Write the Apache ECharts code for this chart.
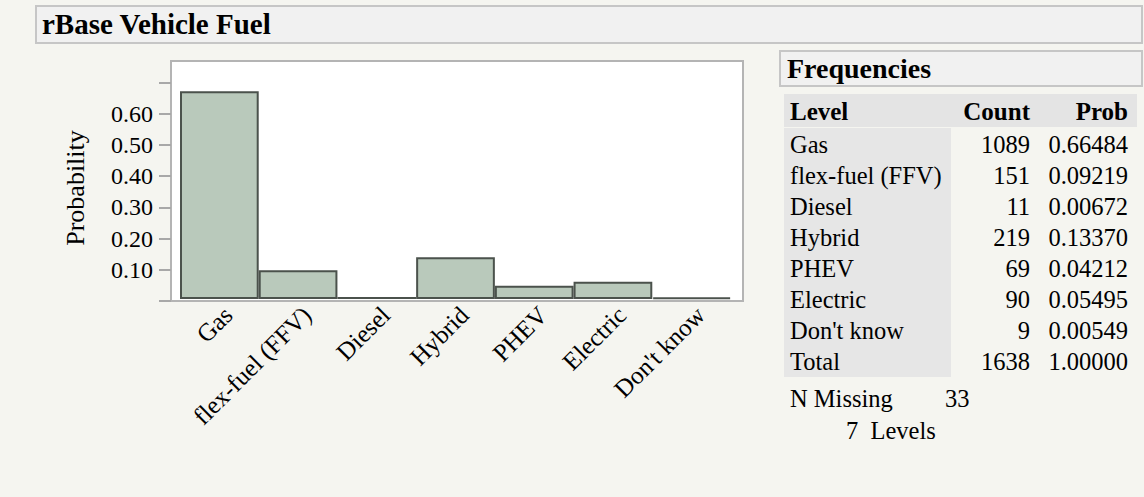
<!DOCTYPE html>
<html><head><meta charset="utf-8">
<script src="https://cdn.jsdelivr.net/npm/echarts@6/dist/echarts.min.js"></script>
<style>html,body{margin:0;padding:0;background:#f5f5f0;} #c{width:1144px;height:497px;}</style>
</head><body><div id="c"></div>
<script>
const titleText = 'rBase Vehicle Fuel';
const yAxisTitle = 'Probability';
const categories = ['Gas', 'flex-fuel (FFV)', 'Diesel', 'Hybrid', 'PHEV', 'Electric', "Don't know"];
const counts = [1089, 151, 11, 219, 69, 90, 9];
const probs = [0.66484, 0.09219, 0.00672, 0.13370, 0.04212, 0.05495, 0.00549];
const totalCount = 1638;
const totalProb = 1.00000;
const yTickValues = [0, 0.1, 0.2, 0.3, 0.4, 0.5, 0.6, 0.7];
const yLabelValues = [0.1, 0.2, 0.3, 0.4, 0.5, 0.6];
const yMax = 0.768;
const nMissing = 33;
const nLevels = 7;

const FONT = "'Liberation Serif', 'Times New Roman', serif";
const chart = echarts.init(document.getElementById('c'), null, {renderer: 'svg'});

const graphics = [];
graphics.push({type: 'rect', shape: {x: 36, y: 6, width: 1106, height: 37}, style: {fill: '#f1f1f1', stroke: '#c6c6c6', lineWidth: 2}});
graphics.push({type: 'text', style: {text: titleText, x: 42, y: 24, fontFamily: FONT, fontSize: 29, fontWeight: 'bold', fill: '#000', textAlign: 'left', textVerticalAlign: 'middle'}});
graphics.push({type: 'rect', shape: {x: 780, y: 51, width: 362, height: 35}, style: {fill: '#f1f1f1', stroke: '#c6c6c6', lineWidth: 2}});
graphics.push({type: 'text', style: {text: 'Frequencies', x: 787, y: 68, fontFamily: FONT, fontSize: 28, fontWeight: 'bold', fill: '#000', textAlign: 'left', textVerticalAlign: 'middle'}});
graphics.push({type: 'rect', shape: {x: 784, y: 94, width: 353, height: 33}, style: {fill: '#e4e4e4'}});
graphics.push({type: 'rect', shape: {x: 784, y: 128, width: 167, height: 249}, style: {fill: '#e6e6e6'}});
graphics.push({type: 'text', x: 75, y: 188, rotation: Math.PI / 2,
  style: {text: yAxisTitle, x: 0, y: 0, fontFamily: FONT, fontSize: 26, fill: '#000', textAlign: 'center', textVerticalAlign: 'middle'}});

function txt(t, x, y, align, bold) {
  graphics.push({type: 'text', style: {text: t, x: x, y: y, fontFamily: FONT, fontSize: bold ? 25 : 24.5, fontWeight: bold ? 'bold' : 'normal', fill: '#000', textAlign: align, textVerticalAlign: 'middle'}});
}
const levelX = 790, countX = 1030, probX = 1128;
txt('Level', levelX, 111, 'left', true);
txt('Count', countX, 111, 'right', true);
txt('Prob', probX, 111, 'right', true);
const rowY0 = 144, rowStep = 31;
categories.forEach(function (c, i) {
  const y = rowY0 + i * rowStep;
  txt(c, levelX, y, 'left', false);
  txt(String(counts[i]), countX, y, 'right', false);
  txt(probs[i].toFixed(5), probX, y, 'right', false);
});
const yTot = rowY0 + categories.length * rowStep;
txt('Total', levelX, yTot, 'left', false);
txt(String(totalCount), countX, yTot, 'right', false);
txt(totalProb.toFixed(5), probX, yTot, 'right', false);
txt('N Missing', levelX, 398, 'left', false);
txt(String(nMissing), 945, 398, 'left', false);
txt(nLevels + '  Levels', 846, 430, 'left', false);

chart.setOption({
  animation: false,
  backgroundColor: '#f5f5f0',
  grid: [
    {left: 171, top: 61, width: 572, height: 240, show: true, backgroundColor: '#ffffff', borderColor: '#b4b4b4', borderWidth: 2},
    {left: 180, top: 59, width: 551, height: 240}
  ],
  xAxis: [
    {gridIndex: 0, type: 'category', data: categories, show: false},
    {gridIndex: 1, type: 'category', data: categories,
      axisLine: {show: false}, axisTick: {show: false},
      axisLabel: {interval: 0, rotate: 45, margin: 3, verticalAlign: 'top', fontFamily: FONT, fontSize: 25, color: '#000'}}
  ],
  yAxis: [
    {gridIndex: 0, type: 'value', min: 0, max: yMax,
      axisLine: {show: false}, splitLine: {show: false},
      axisTick: {show: true, length: 12, customValues: yTickValues, lineStyle: {color: '#a8a8a8', width: 2}},
      axisLabel: {customValues: yLabelValues, formatter: function (v) { return v.toFixed(2); }, margin: 18, fontFamily: FONT, fontSize: 24, color: '#000'}},
    {gridIndex: 1, type: 'value', min: 0, max: yMax, show: false}
  ],
  series: [{
    type: 'bar', xAxisIndex: 1, yAxisIndex: 1, data: probs,
    barCategoryGap: '0%',
    itemStyle: {color: '#b9c9bb', borderColor: '#4b524c', borderWidth: 2}
  }],
  graphic: graphics
});
</script></body></html>
